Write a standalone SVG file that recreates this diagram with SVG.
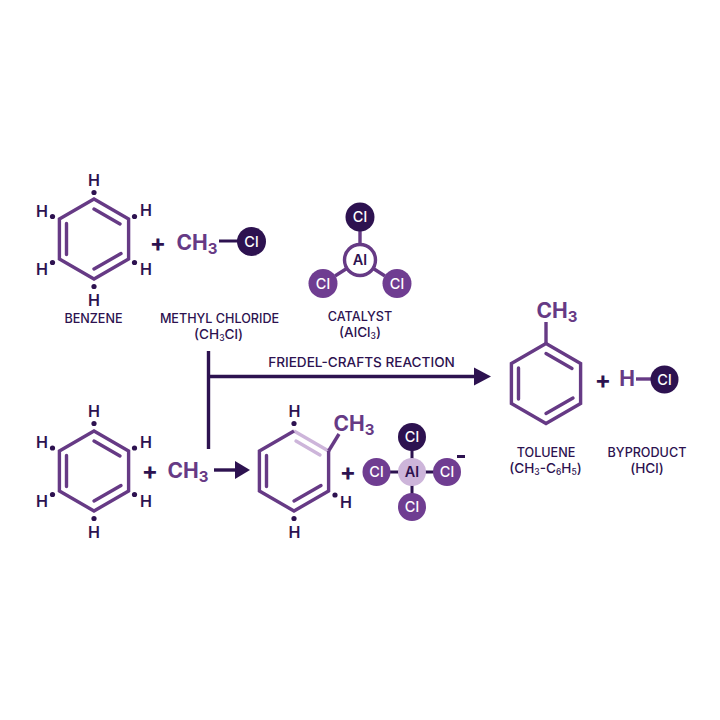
<svg xmlns="http://www.w3.org/2000/svg" width="720" height="720" viewBox="0 0 720 720">
<defs>
<style>
text{font-family:"Inter","Liberation Sans",sans-serif;text-anchor:middle}
.ring{fill:none;stroke:#663a85;stroke-width:3.4;stroke-linejoin:miter}
.dbl{fill:none;stroke:#663a85;stroke-width:3.4;stroke-linecap:round}
.pale{fill:none;stroke:#cdb5da;stroke-width:3.4;stroke-linecap:round}
.h{fill:#2d1250;font-size:16px;font-weight:600}
.dot{fill:#2d1250}
.plus{fill:#2d1250;font-size:24px;font-weight:700}
.lbl{fill:#2d1250;font-size:12.6px;font-weight:500}
.lbl2{fill:#2d1250;font-size:13.6px;font-weight:500}
.sub{font-size:8.5px}
.ch{fill:#663a85;font-size:21px;font-weight:700}
.chs{font-size:15px}
.cl{fill:#fff;font-size:14.5px;font-weight:500}
.al{fill:#2d1250;font-size:14.5px;font-weight:600}
.dk{fill:#2d1250}
.md{fill:#6f3d91}
.bond{stroke:#663a85;stroke-width:3.4;fill:none}
.bd{stroke:#2d1250;stroke-width:3;fill:none}
.conn{stroke:#2d1250;stroke-width:3.4;fill:none}
</style>
<g id="benz">
<polygon class="ring" points="0,-40 34.6,-20 34.6,20 0,40 -34.6,20 -34.6,-20"/>
<path class="dbl" d="M0,-30 L26,-15 M-27.5,-15.500 V15.500 M0,30 L27,14.500"/>
</g>
</defs>

<g id="connectors">
<path class="conn" d="M208.500,351 V449"/>
<path class="conn" d="M208.500,376.500 H476"/>
<path d="M474,367.500 L491,376.500 L474,385.500 Z" class="dk"/>
<path class="conn" d="M214,470 H236"/>
<path d="M235,461 L250,470 L235,479 Z" class="dk"/>
</g>

<g id="benzene">
<use href="#benz" x="94" y="239"/>
<text class="h" x="94" y="186">H</text><circle class="dot" cx="94" cy="192.500" r="2.600"/>
<text class="h" x="42" y="217">H</text><circle class="dot" cx="52.500" cy="216.500" r="2.600"/>
<text class="h" x="146" y="216">H</text><circle class="dot" cx="134.500" cy="216.500" r="2.600"/>
<text class="h" x="42" y="275">H</text><circle class="dot" cx="52.500" cy="262.500" r="2.600"/>
<text class="h" x="146" y="275">H</text><circle class="dot" cx="134.500" cy="262.500" r="2.600"/>
<text class="h" x="94" y="306">H</text><circle class="dot" cx="94" cy="286.500" r="2.600"/>
<text class="lbl" x="93.500" y="323">BENZENE</text>
</g>

<g id="plus1"><text class="plus" x="158" y="251">+</text></g>

<g id="methyl-chloride">
<text class="ch" x="197" y="250">CH<tspan class="chs" dy="4">3</tspan></text>
<path class="bd" d="M219,241 H240"/>
<circle class="dk" cx="251.500" cy="241.500" r="14.500"/>
<text class="cl" x="251.500" y="246.500">Cl</text>
<text class="lbl" x="219.500" y="323">METHYL CHLORIDE</text>
<text class="lbl2" x="218.500" y="339">(CH<tspan class="sub" dy="2">3</tspan><tspan dy="-2">Cl)</tspan></text>
</g>

<g id="catalyst">
<path class="bond" d="M360,230 V260 L335,276 M360,260 L385,276"/>
<circle class="dk" cx="360" cy="217" r="14.500"/>
<circle cx="360" cy="260" r="15.500" fill="#fff" stroke="#663a85" stroke-width="3.400"/>
<circle class="md" cx="323" cy="283.500" r="14.500"/>
<circle class="md" cx="397" cy="283.500" r="14.500"/>
<text class="cl" x="360" y="222">Cl</text>
<text class="al" x="360" y="265">Al</text>
<text class="cl" x="323" y="288.500">Cl</text>
<text class="cl" x="397" y="288.500">Cl</text>
<text class="lbl" x="360" y="321">CATALYST</text>
<text class="lbl2" x="360" y="337">(AlCl<tspan class="sub" dy="2">3</tspan><tspan dy="-2">)</tspan></text>
</g>

<g id="toluene">
<use href="#benz" x="546" y="383.500"/>
<path class="bond" d="M546,343 V322"/>
<text class="ch" x="557" y="318">CH<tspan class="chs" dy="4">3</tspan></text>
<text class="lbl" x="546" y="457">TOLUENE</text>
<text class="lbl2" x="545.500" y="473">(CH<tspan class="sub" dy="2">3</tspan><tspan dy="-2">-C</tspan><tspan class="sub" dy="2">6</tspan><tspan dy="-2">H</tspan><tspan class="sub" dy="2">5</tspan><tspan dy="-2">)</tspan></text>
</g>

<g id="plus2"><text class="plus" x="603" y="388">+</text></g>

<g id="hcl">
<text class="ch" x="627" y="386">H</text>
<path class="bond" d="M636,379 H652"/>
<circle class="dk" cx="664.500" cy="379.500" r="14"/>
<text class="cl" x="664.500" y="384.500">Cl</text>
<text class="lbl" x="647" y="457">BYPRODUCT</text>
<text class="lbl2" x="647" y="473">(HCl)</text>
</g>

<g id="benzene-2">
<use href="#benz" x="94" y="471"/>
<text class="h" x="94" y="417">H</text><circle class="dot" cx="94" cy="423.500" r="2.600"/>
<text class="h" x="42" y="448">H</text><circle class="dot" cx="52.500" cy="448" r="2.600"/>
<text class="h" x="146" y="448">H</text><circle class="dot" cx="134.500" cy="448" r="2.600"/>
<text class="h" x="42" y="507">H</text><circle class="dot" cx="52.500" cy="494.500" r="2.600"/>
<text class="h" x="146" y="507">H</text><circle class="dot" cx="134.500" cy="494.500" r="2.600"/>
<text class="h" x="94" y="538">H</text><circle class="dot" cx="94" cy="518.500" r="2.600"/>
</g>

<g id="plus3"><text class="plus" x="150" y="479">+</text></g>

<g id="methyl">
<text class="ch" x="188" y="478">CH<tspan class="chs" dy="4">3</tspan></text>
</g>

<g id="friedel-label">
<text class="lbl2" x="361.500" y="367">FRIEDEL-CRAFTS REACTION</text>
</g>

<g id="intermediate">
<path class="ring" d="M294,431 L328.600,451" style="stroke:#cdb5da"/>
<path class="ring" d="M328.600,451 V491 L294,511 L259.400,491 V451 L294,431"/>
<path class="pale" d="M296,441 L320,455"/>
<path class="dbl" d="M266.500,455.500 V486.500 M294,501 L321,485.500"/>
<path class="bond" d="M328.600,451 L339,434"/>
<text class="ch" x="354" y="431">CH<tspan class="chs" dy="4">3</tspan></text>
<text class="h" x="294.500" y="417">H</text><circle class="dot" cx="294" cy="423.500" r="2.600"/>
<text class="h" x="346" y="508">H</text><circle class="dot" cx="335" cy="495" r="2.600"/>
<text class="h" x="294.500" y="538">H</text><circle class="dot" cx="294" cy="518.500" r="2.600"/>
</g>

<g id="plus4"><text class="plus" x="348" y="480">+</text></g>

<g id="alcl4">
<path class="bd" d="M412,437 V507 M377,472 H447"/>
<circle cx="412" cy="472" r="14" fill="#cdb5da"/>
<circle class="dk" cx="412" cy="437" r="14"/>
<circle class="md" cx="376.500" cy="472" r="14"/>
<circle class="md" cx="447" cy="472" r="14"/>
<circle class="md" cx="412" cy="507" r="14"/>
<text class="cl" x="412" y="442">Cl</text>
<text class="al" x="412" y="477">Al</text>
<text class="cl" x="376.500" y="477">Cl</text>
<text class="cl" x="447" y="477">Cl</text>
<text class="cl" x="412" y="512">Cl</text>
<path class="bd" d="M457,456.500 H465"/>
</g>
</svg>
